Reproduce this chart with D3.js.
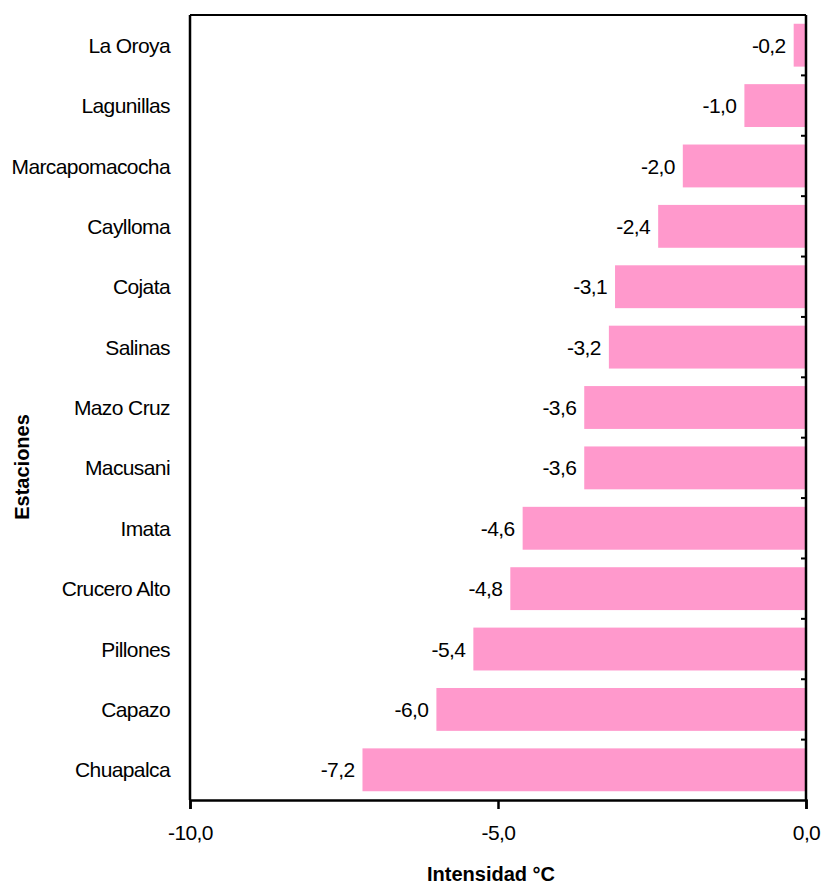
<!DOCTYPE html>
<html lang="es">
<head>
<meta charset="UTF-8">
<title>Intensidad por estación</title>
<script src="https://d3js.org/d3.v7.min.js"></script>
<style>
  body { margin: 0; background: #fff; }
  text { font-family: "Liberation Sans", Arial, sans-serif; fill: #000; }
  .lbl { font-size: 21px; letter-spacing: -0.6px; }
</style>
</head>
<body>
<div id="chart"></div>
<script>
// data
const estaciones = ["La Oroya", "Lagunillas", "Marcapomacocha", "Caylloma", "Cojata", "Salinas",
  "Mazo Cruz", "Macusani", "Imata", "Crucero Alto", "Pillones", "Capazo", "Chuapalca"];
const intensidad = [-0.2, -1.0, -2.0, -2.4, -3.1, -3.2, -3.6, -3.6, -4.6, -4.8, -5.4, -6.0, -7.2];
const xTicks = [-10, -5, 0];

const width = 825, height = 887;
const margin = { top: 15, right: 19, bottom: 87, left: 190 };
const w = width - margin.left - margin.right;
const h = height - margin.top - margin.bottom;

const fmt = v => d3.format(".1f")(v).replace(".", ",").replace("−", "-");

const svg = d3.select("#chart").append("svg")
    .attr("width", width)
    .attr("height", height);

const g = svg.append("g")
    .attr("transform", "translate(" + margin.left + "," + margin.top + ")");

const x = d3.scaleLinear().domain([-10, 0]).range([0, w]);
const y = d3.scaleBand().domain(estaciones).range([0, h]).paddingInner(0.29).paddingOuter(0.145);
const yBand = d3.scaleBand().domain(estaciones).range([0, h]);

const rows = estaciones.map((e, i) => ({ name: e, value: intensidad[i] }));

// bars
g.selectAll("rect.bar")
    .data(rows)
    .enter()
    .append("rect")
    .attr("class", "bar")
    .attr("x", d => x(d.value))
    .attr("y", d => y(d.name))
    .attr("width", d => x(0) - x(d.value))
    .attr("height", y.bandwidth())
    .attr("fill", "#ff99cc");

// value labels
g.selectAll("text.val")
    .data(rows)
    .enter()
    .append("text")
    .attr("class", "val lbl")
    .attr("x", d => x(d.value) - 8)
    .attr("y", d => y(d.name) + y.bandwidth() / 2)
    .attr("dy", "0.36em")
    .attr("text-anchor", "end")
    .text(d => fmt(d.value));

// category labels
g.selectAll("text.cat")
    .data(estaciones)
    .enter()
    .append("text")
    .attr("class", "cat lbl")
    .attr("x", -20)
    .attr("y", d => yBand(d) + yBand.bandwidth() / 2)
    .attr("dy", "0.36em")
    .attr("text-anchor", "end")
    .text(d => d);

// frame: top and left lines
g.append("line").attr("x1", 0).attr("x2", w).attr("y1", 0).attr("y2", 0)
    .attr("stroke", "#000").attr("stroke-width", 2);
g.append("line").attr("x1", 0).attr("x2", 0).attr("y1", 0).attr("y2", h)
    .attr("stroke", "#000").attr("stroke-width", 2.5);

// right y axis (value 0) with category separator ticks pointing inward
g.append("line").attr("x1", w).attr("x2", w).attr("y1", 0).attr("y2", h)
    .attr("stroke", "#000").attr("stroke-width", 2.5);
g.selectAll("line.ytick")
    .data(estaciones.slice(1))
    .enter()
    .append("line")
    .attr("class", "ytick")
    .attr("x1", w - 5).attr("x2", w)
    .attr("y1", d => yBand(d)).attr("y2", d => yBand(d))
    .attr("stroke", "#000").attr("stroke-width", 2);

// bottom axis
const xAxis = g.append("g")
    .attr("transform", "translate(0," + h + ")")
    .call(d3.axisBottom(x).tickValues(xTicks).tickSize(9).tickPadding(16).tickFormat(fmt));
xAxis.select(".domain").attr("stroke-width", 2.5);
xAxis.selectAll(".tick line").attr("stroke-width", 2.5);
xAxis.selectAll(".tick text").attr("class", "lbl").attr("font-size", null).attr("fill", "#000");
xAxis.attr("font-size", null).attr("font-family", null);

// axis titles
svg.append("text")
    .attr("x", 491)
    .attr("y", 881)
    .attr("text-anchor", "middle")
    .style("font-size", "20px")
    .style("font-weight", "bold")
    .text("Intensidad °C");

svg.append("text")
    .attr("transform", "translate(29,467) rotate(-90)")
    .attr("text-anchor", "middle")
    .style("font-size", "20px")
    .style("font-weight", "bold")
    .text("Estaciones");
</script>
</body>
</html>
